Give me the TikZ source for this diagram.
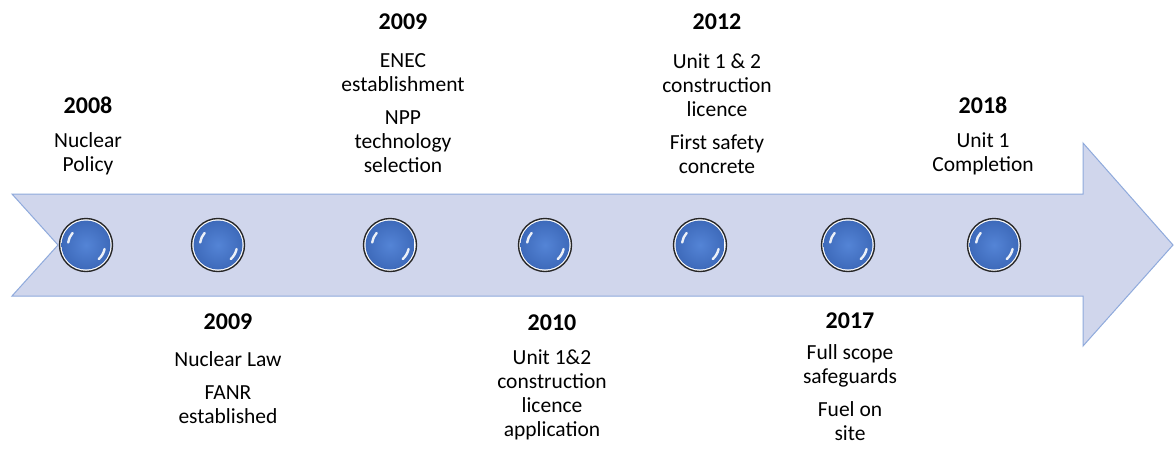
\documentclass[tikz,border=0pt]{standalone}
\usepackage{fontspec}
\setmainfont{Carlito}
\definecolor{arrowfill}{RGB}{208,214,236}
\definecolor{arrowline}{RGB}{143,170,220}
\definecolor{bluein}{RGB}{84,132,214}
\definecolor{blueout}{RGB}{60,104,184}
\begin{document}
\begin{tikzpicture}[x=1pt,y=-1pt,
  yr/.style={font=\fontsize{24}{28}\selectfont\bfseries, inner sep=0pt},
  desc/.style={font=\fontsize{21.5}{24}\selectfont, align=center, inner sep=0pt},
  ball/.style={circle, minimum size=53pt, inner sep=0pt, draw=black!85, line width=1.4pt, fill=white,
    path picture={
      \fill[inner color=bluein, outer color=blueout] (path picture bounding box.center) circle (24.5pt);
      \draw[white, line width=2.4pt, line cap=round, opacity=0.9]
        ([shift={(138:18pt)}]path picture bounding box.center) arc (138:172:18pt);
      \draw[white, line width=2.4pt, line cap=round, opacity=0.9]
        ([shift={(-12:19pt)}]path picture bounding box.center) arc (-12:-48:19pt);
    }}]
\useasboundingbox (0,0) rectangle (1174,448);
\fill[white] (0,0) rectangle (1174,448);
% arrow
\path[draw=arrowline, fill=arrowfill, line width=1pt]
  (12,194) -- (1083,194) -- (1083,143) -- (1173,245) -- (1083,346) -- (1083,296) -- (12,296) -- (58,245) -- cycle;
% balls
\node[ball] (b1) at (86,245) {};
\node[ball] (b2) at (218,245) {};
\node[ball] (b3) at (390,245) {};
\node[ball] (b4) at (545,245) {};
\node[ball] (b5) at (700,245) {};
\node[ball] (b6) at (848,245) {};
\node[ball] (b7) at (994,245) {};
% texts
\node[yr] (y1) at (88,105) {2008};
\node[desc] (d1) at (88,153.5) {Nuclear\\Policy};
\node[yr] (y2) at (228,322) {2009};
\node[desc] (d2) at (228,387.5) {Nuclear Law\\[9pt]FANR\\established};
\node[yr] (y3) at (403,22) {2009};
\node[desc] (d3) at (403,113) {ENEC\\establishment\\[9pt]NPP\\technology\\selection};
\node[yr] (y4) at (552,323) {2010};
\node[desc] (d4) at (552,395) {Unit 1\&2\\construction\\licence\\application};
\node[yr] (y5) at (717,22) {2012};
\node[desc] (d5) at (717,113.5) {Unit 1 \& 2\\construction\\licence\\[9pt]First safety\\concrete};
\node[yr] (y6) at (850,321) {2017};
\node[desc] (d6) at (850,393) {Full scope\\safeguards\\[9pt]Fuel on\\site};
\node[yr] (y7) at (983,105) {2018};
\node[desc] (d7) at (983,154) {Unit 1\\Completion};
\end{tikzpicture}
\end{document}
